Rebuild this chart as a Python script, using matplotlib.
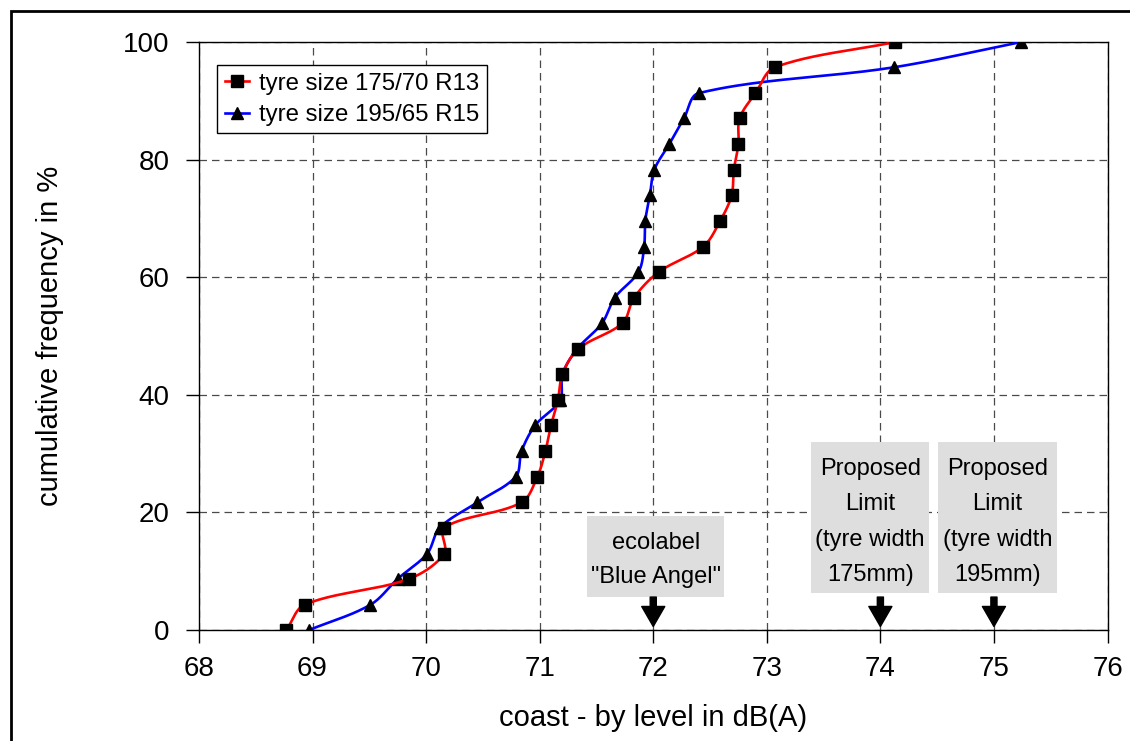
import numpy as np
import matplotlib
matplotlib.use("Agg")
import matplotlib.pyplot as plt
from matplotlib.patches import Rectangle
from matplotlib.lines import Line2D

plt.rcParams['font.family'] = ['Liberation Sans', 'DejaVu Sans']

# ---------------- data ----------------
cum_freq = [0, 4.3, 8.7, 13.0, 17.4, 21.7, 26.1, 30.4, 34.8, 39.1, 43.5, 47.8,
            52.2, 56.5, 60.9, 65.2, 69.6, 73.9, 78.3, 82.6, 87.0, 91.3, 95.7, 100]
level_175 = [68.77, 68.93, 69.85, 70.16, 70.16, 70.84, 70.98, 71.05, 71.10, 71.16,
             71.20, 71.34, 71.73, 71.83, 72.05, 72.44, 72.59, 72.69, 72.71, 72.75,
             72.76, 72.90, 73.07, 74.13]
level_195 = [68.97, 69.51, 69.75, 70.01, 70.12, 70.45, 70.79, 70.84, 70.96, 71.18,
             71.20, 71.33, 71.55, 71.66, 71.87, 71.92, 71.93, 71.97, 72.01, 72.14,
             72.27, 72.40, 74.12, 75.24]
series_labels = ["tyre size 175/70 R13", "tyre size 195/65 R15"]
x_ticks = [68, 69, 70, 71, 72, 73, 74, 75, 76]
y_ticks = [0, 20, 40, 60, 80, 100]
limit_levels = [72, 74, 75]
limit_texts = ['ecolabel\n"Blue Angel"',
               "Proposed\nLimit\n(tyre width\n175mm)",
               "Proposed\nLimit\n(tyre width\n195mm)"]

# scale factors (display units per data unit) used only for the smoothing geometry
SX, SY = 113.5, 5.883


def smooth(xs, ys, n=40):
    P = np.column_stack([np.asarray(xs) * SX, np.asarray(ys) * SY]).astype(float)
    m = len(P)
    out = []
    t = np.linspace(0, 1, n)[:, None]
    for i in range(m - 1):
        p0 = P[max(i - 1, 0)]
        p1 = P[i]
        p2 = P[i + 1]
        p3 = P[min(i + 2, m - 1)]
        d01 = np.hypot(*(p1 - p0))
        d12 = np.hypot(*(p2 - p1))
        d23 = np.hypot(*(p3 - p2))
        f1 = d12 / (d01 + d12) / 3.0 if (d01 + d12) > 0 else 0
        f2 = d12 / (d12 + d23) / 3.0 if (d12 + d23) > 0 else 0
        if i == 0:
            c1 = p1 + (p2 - p1) / 3.0
        else:
            c1 = p1 + (p2 - p0) * f1
        if i == m - 2:
            c2 = p2 - (p2 - p1) / 3.0
        else:
            c2 = p2 - (p3 - p1) * f2
        B = ((1 - t) ** 3) * p1 + 3 * ((1 - t) ** 2) * t * c1 + 3 * (1 - t) * t ** 2 * c2 + t ** 3 * p2
        out.append(B if i == 0 else B[1:])
    B = np.vstack(out)
    return B[:, 0] / SX, B[:, 1] / SY


fig = plt.figure(figsize=(11.3, 7.41), dpi=100)
ax = fig.add_axes([199 / 1130, 1 - 630 / 741, 908.5 / 1130, 588 / 741])

# outer frame
fig.patches.append(Rectangle((10.5 / 1130, -0.1), 1.2, 1 - 11.5 / 741 + 0.1,
                             transform=fig.transFigure, fill=False,
                             edgecolor='black', linewidth=2.0, clip_on=False))

# series
bx, by = smooth(level_195, cum_freq)
ax.plot(bx, by, color='#0000ff', lw=1.9, zorder=3, solid_capstyle='round')
ax.plot(level_195, cum_freq, ls='none', marker='^', ms=8.5, color='black', zorder=4)
rx, ry = smooth(level_175, cum_freq)
ax.plot(rx, ry, color='#ff0000', lw=1.9, zorder=5, solid_capstyle='round')
ax.plot(level_175, cum_freq, ls='none', marker='s', ms=8.2, color='black', zorder=6)

ax.set_xlim(68, 76)
ax.set_ylim(0, 100)
ax.set_xticks(x_ticks)
ax.set_yticks(y_ticks)
ax.set_xticklabels([str(v) for v in x_ticks])
ax.set_yticklabels([str(v) for v in y_ticks])
ax.tick_params(direction='out', length=9.4, width=1, labelsize=20, color='black')
ax.tick_params(axis='y', pad=12)
ax.tick_params(axis='x', pad=9)
for s in ax.spines.values():
    s.set_linewidth(1.0)
    s.set_color('black')

ax.set_axisbelow(True)
ax.grid(True, linestyle=(0, (6, 4)), color='#4a4a4a', lw=0.9)

ax.set_xlabel("coast - by level in dB(A)", fontsize=21)
ax.set_ylabel("cumulative frequency in %", fontsize=21)
ax.xaxis.set_label_coords(0.5, -0.125)
ax.yaxis.set_label_coords(-0.149, 0.5)

# limit boxes and arrows
boxes = [(71.416, 5.61, 1.21, 13.77), (73.389, 6.24, 1.043, 25.66), (74.508, 6.24, 1.043, 25.66)]
spacings = [1.68, 1.8, 1.8]
text_shift = [0.55, 0.7, 0.7]
for (bx0, by0, bw, bh), lvl, txt, ls, sh in zip(boxes, limit_levels, limit_texts, spacings, text_shift):
    ax.add_patch(Rectangle((bx0, by0), bw, bh, facecolor='#dedede', edgecolor='none', zorder=2))
    ax.text(bx0 + bw / 2, by0 + bh / 2 - sh, txt, ha='center', va='center', fontsize=17,
            linespacing=ls, zorder=2.5)
    ax.annotate('', xy=(lvl, 0.6), xytext=(lvl, 5.6),
                arrowprops=dict(arrowstyle='simple,head_length=0.72,head_width=0.83,tail_width=0.22',
                                mutation_scale=20, color='black', shrinkA=0, shrinkB=0),
                zorder=7)

handles = [Line2D([], [], color='#ff0000', lw=1.9, marker='s', ms=8.2,
                  markerfacecolor='black', markeredgecolor='black'),
           Line2D([], [], color='#0000ff', lw=1.9, marker='^', ms=8.5,
                  markerfacecolor='black', markeredgecolor='black')]
leg = ax.legend(handles, series_labels, loc='upper left',
                bbox_to_anchor=((217.3 - 199) / 908.5, (630 - 65.3) / 588),
                borderaxespad=0, fontsize=17.3, frameon=True, fancybox=False,
                edgecolor='black', framealpha=1, handlelength=1.0,
                handletextpad=0.45, borderpad=0.3, labelspacing=0.4, numpoints=1)
leg.get_frame().set_linewidth(1.0)
leg.set_zorder(10)

fig.savefig('out.png', dpi=100)
